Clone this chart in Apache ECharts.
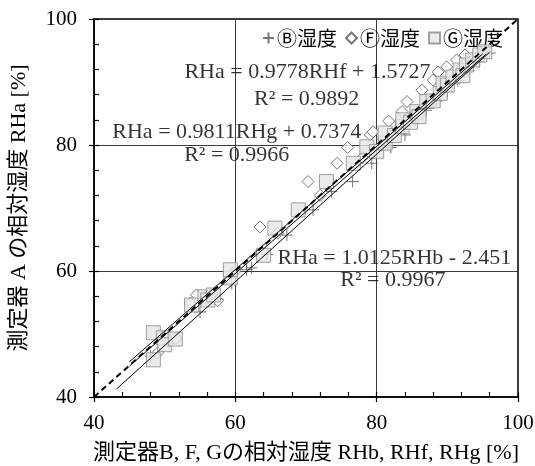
<!DOCTYPE html>
<html>
<head>
<meta charset="utf-8">
<script src="https://cdn.jsdelivr.net/npm/echarts@6/dist/echarts.min.js"></script>
<style>
  html, body { margin: 0; padding: 0; background: #fff; }
  #chart { width: 535px; height: 466px; }
</style>
</head>
<body>
<div id="chart"></div>
<script>
// Humidity readings: sensors B, F, G (x) against reference sensor A (y)
const bX = [48.0, 50.5, 55.0, 57.5, 59.5, 61.6, 62.3, 64.5, 67.3, 71.0, 73.6, 76.6, 79.3, 82.0, 84.0, 85.5, 87.0, 88.5, 90.0, 91.5, 93.0, 94.5, 96.0];
const bY = [46.5, 48.5, 53.5, 55.5, 58.0, 60.2, 60.5, 62.6, 65.7, 69.7, 72.6, 74.2, 77.1, 79.6, 81.6, 84.0, 85.5, 87.0, 88.5, 90.2, 91.8, 93.2, 94.6];

const fX = [49.0, 51.6, 53.6, 54.5, 57.5, 60.0, 63.5, 66.0, 70.3, 72.0, 74.4, 75.9, 78.0, 79.1, 79.5, 81.7, 83.6, 84.3, 85.0, 86.4, 88.0, 88.7, 89.9, 90.0, 91.3, 92.5, 95.0];
const fY = [47.0, 49.3, 54.9, 56.2, 55.3, 60.0, 67.0, 66.0, 74.2, 72.0, 77.1, 79.6, 78.0, 81.6, 82.1, 83.8, 85.3, 86.9, 84.5, 88.7, 90.3, 91.6, 92.4, 89.5, 93.5, 94.3, 94.5];

const gX = [48.4, 48.4, 49.8, 50.0, 51.5, 53.8, 55.7, 56.1, 56.9, 59.3, 59.3, 64.0, 65.6, 68.9, 72.9, 76.7, 78.6, 80.0, 81.2, 81.2, 82.5, 83.6, 83.7, 84.8, 85.7, 86.0, 87.1, 88.0, 89.0, 89.4, 90.0, 90.8, 91.8, 92.2, 92.7, 93.6, 94.6, 95.3];
const gY = [45.9, 50.2, 49.4, 48.3, 49.2, 54.6, 55.9, 55.4, 56.2, 58.9, 60.2, 62.5, 66.8, 69.7, 74.2, 77.1, 79.7, 79.0, 80.3, 81.9, 81.5, 82.9, 84.0, 83.6, 85.3, 84.5, 86.9, 87.0, 88.2, 89.8, 89.5, 90.8, 91.9, 91.0, 92.7, 93.5, 94.3, 94.8];

// Linear fits (order: B, F, G)
const fitSlope = [1.0125, 0.9778, 0.9811];
const fitIntercept = [-2.451, 1.5727, 0.7374];
const fitFrom = [43.2, 45.0, 45.0];
const fitTo = [96.0, 95.0, 95.5];

// Fit annotations, placed in data coordinates
const noteText = [
  'RHa = 0.9778RHf + 1.5727', 'R² = 0.9892',
  'RHa = 0.9811RHg + 0.7374', 'R² = 0.9966',
  'RHa = 1.0125RHb - 2.451', 'R² = 0.9967'
];
const noteX = [70.2, 70.1, 60.2, 60.2, 82.5, 82.3];
const noteY = [91.6, 87.3, 82.1, 78.4, 62.0, 58.6];

const seriesNames = ['Ⓑ湿度', 'Ⓕ湿度', 'Ⓖ湿度'];
const axisMin = 40, axisMax = 100, axisStep = 20, minorStep = 4;

const FONT = "'Liberation Serif', 'Noto Sans CJK JP', serif";
const CJK_FONT = "'Noto Sans CJK JP', 'Liberation Serif', sans-serif";

function pairs(xs, ys) { return xs.map((x, i) => [x, ys[i]]); }
function fitLine(k) {
  return [fitFrom[k], fitTo[k]].map(x => [x, fitSlope[k] * x + fitIntercept[k]]);
}

const majorAxis = (pos) => ({
  type: 'value', position: pos, min: axisMin, max: axisMax, interval: axisStep,
  axisLine: { show: true, onZero: false, lineStyle: { color: '#000', width: 1.5 } },
  axisTick: { show: true, inside: false, length: 5, lineStyle: { color: '#000', width: 1.2 } },
  axisLabel: { color: '#000', fontFamily: FONT, fontSize: 21, margin: pos === 'left' ? 17 : 16 },
  splitLine: { show: true, lineStyle: { color: '#3a3a3a', width: 1 } }
});
const minorAxis = (pos) => ({
  type: 'value', position: pos, min: axisMin, max: axisMax, interval: minorStep,
  axisLine: { show: false, onZero: false },
  axisTick: { show: true, inside: true, length: 5, lineStyle: { color: '#000', width: 1.2 } },
  axisLabel: { show: false },
  splitLine: { show: false }
});

const xMain = majorAxis('bottom');
xMain.name = '測定器B, F, Gの相対湿度 RHb, RHf, RHg [%]';
xMain.nameLocation = 'middle';
xMain.nameGap = 45;
xMain.nameTextStyle = { color: '#000', fontFamily: FONT, fontSize: 22 };

const yMain = majorAxis('left');
yMain.name = '測定器 A の相対湿度 RHa [%]';
yMain.nameLocation = 'middle';
yMain.nameGap = 64;
yMain.nameTextStyle = { color: '#000', fontFamily: FONT, fontSize: 22 };

const chart = echarts.init(document.getElementById('chart'), null, { renderer: 'canvas' });
chart.setOption({
  animation: false,
  backgroundColor: '#fff',
  grid: {
    left: 94, right: 17, top: 19, bottom: 69, outerBoundsMode: 'none',
    show: true, borderColor: '#000', borderWidth: 1.5, backgroundColor: 'transparent'
  },
  legend: {
    data: seriesNames,
    right: 27, top: 23,
    itemWidth: 11, itemHeight: 11, itemGap: 8,
    textStyle: { color: '#000', fontFamily: CJK_FONT, fontSize: 20, padding: [0, 0, 0, -2] }
  },
  xAxis: [xMain, minorAxis('bottom')],
  yAxis: [yMain, minorAxis('left')],
  series: [
    {
      name: seriesNames[0], type: 'scatter', data: pairs(bX, bY),
      symbol: 'path://M0,5L10,5M5,0L5,10', symbolSize: 12,
      itemStyle: { color: 'rgba(0,0,0,0)', borderColor: '#555', borderWidth: 1 }, z: 2
    },
    {
      name: seriesNames[1], type: 'scatter', data: pairs(fX, fY),
      symbol: 'diamond', symbolSize: [12, 12],
      itemStyle: { color: '#fff', borderColor: '#555', borderWidth: 1 }, z: 3
    },
    {
      name: seriesNames[2], type: 'scatter', data: pairs(gX, gY),
      symbol: 'rect', symbolSize: 14,
      itemStyle: { color: '#e6e6e6', borderColor: '#8a8a8a', borderWidth: 1 }, z: 4
    },
    ...[0, 1, 2].map(k => ({
      type: 'line', data: fitLine(k), symbol: 'none', silent: true, z: 5,
      lineStyle: { color: '#000', width: 1 }
    })),
    {
      type: 'line', data: [[axisMin, axisMin], [axisMax, axisMax]], symbol: 'none', silent: true, z: 6,
      lineStyle: { color: '#000', width: 2, type: [6, 4] }
    },
    {
      type: 'scatter', silent: true, z: 7, symbolSize: 0,
      data: noteText.map((t, i) => ({ value: [noteX[i], noteY[i]], name: t })),
      label: {
        show: true, position: 'inside', formatter: p => p.name,
        color: '#000', fontFamily: FONT, fontSize: 22
      }
    }
  ]
});
</script>
</body>
</html>
